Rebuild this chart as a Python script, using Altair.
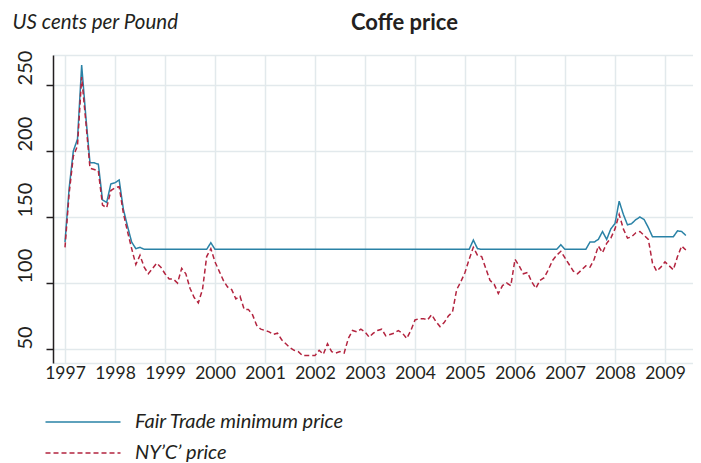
import altair as alt
import pandas as pd

start_year = 1997
series_names = ["Fair Trade minimum price", "NY\u2019C\u2019 price"]

# Monthly values, Jan 1997 .. Jun 2009 (US cents per pound)
ny_c_price = [
    127, 168, 196, 204, 256, 222, 187, 186, 185, 159, 157, 170,   # 1997
    172, 173, 153, 139, 126, 114, 121, 112, 107, 111, 115, 112,   # 1998
    107, 103, 103, 100, 111, 107, 96, 89, 85, 95, 120, 126,       # 1999
    116, 109, 102, 97, 95, 88, 90, 80, 80, 76, 68, 65,            # 2000
    64, 63, 61, 62, 57, 54, 51, 49, 48, 45, 45, 45,               # 2001
    45, 49, 46, 54, 48, 47, 48, 47, 58, 64, 63, 65,               # 2002
    63, 59, 62, 64, 65, 60, 61, 62, 64, 62, 58, 64,               # 2003
    72, 73, 73, 72, 76, 71, 67, 70, 75, 78, 95, 101,              # 2004
    108, 118, 127, 121, 120, 111, 102, 99, 92, 98, 100, 98,       # 2005
    118, 113, 107, 108, 101, 96, 102, 104, 110, 117, 121, 124,    # 2006
    119, 114, 109, 107, 110, 113, 112, 118, 128, 123, 130, 134,   # 2007
    141, 152, 141, 134, 135, 138, 139, 136, 133, 115, 109, 112,   # 2008
    116, 113, 110, 120, 128, 125,                                 # 2009
]

fair_trade_min = [
    131, 172, 200, 209, 265, 226, 191, 191, 190, 163, 161, 175,   # 1997
    176, 178, 156, 143, 131, 126, 127, 125.5, 125.5, 125.5, 125.5, 125.5,  # 1998
    125.5, 125.5, 125.5, 125.5, 125.5, 125.5, 125.5, 125.5, 125.5, 125.5, 125.5, 130.5,  # 1999
    125.5, 125.5, 125.5, 125.5, 125.5, 125.5, 125.5, 125.5, 125.5, 125.5, 125.5, 125.5,  # 2000
    125.5, 125.5, 125.5, 125.5, 125.5, 125.5, 125.5, 125.5, 125.5, 125.5, 125.5, 125.5,  # 2001
    125.5, 125.5, 125.5, 125.5, 125.5, 125.5, 125.5, 125.5, 125.5, 125.5, 125.5, 125.5,  # 2002
    125.5, 125.5, 125.5, 125.5, 125.5, 125.5, 125.5, 125.5, 125.5, 125.5, 125.5, 125.5,  # 2003
    125.5, 125.5, 125.5, 125.5, 125.5, 125.5, 125.5, 125.5, 125.5, 125.5, 125.5, 125.5,  # 2004
    125.5, 125.5, 132.5, 126, 125.5, 125.5, 125.5, 125.5, 125.5, 125.5, 125.5, 125.5,    # 2005
    125.5, 125.5, 125.5, 125.5, 125.5, 125.5, 125.5, 125.5, 125.5, 125.5, 125.5, 129,    # 2006
    125.5, 125.5, 125.5, 125.5, 125.5, 125.5, 131, 131, 133, 139, 133, 141,              # 2007
    145, 162, 152, 144, 145, 148, 150, 148, 142, 135, 135, 135,                          # 2008
    135, 135, 135, 139.5, 139, 136,                                                      # 2009
]

year_ticks = list(range(1997, 2010))
y_ticks = [50, 100, 150, 200, 250]

rows = []
for i, (ft, ny) in enumerate(zip(fair_trade_min, ny_c_price)):
    t = start_year + i / 12
    rows.append({"t": t, "price": ft, "series": series_names[0]})
    rows.append({"t": t, "price": ny, "series": series_names[1]})
df = pd.DataFrame(rows)

FONT = "Lato"
TXT = "#231f20"
GRID = "#e2e9ec"
BLUE = "#2a82a6"
RED = "#b3243f"

legend = alt.Legend(
    orient="none", legendX=20, legendY=357, title=None, padding=0,
    symbolType="M-5,0H5", symbolSize=225, symbolStrokeWidth=1.5,
    labelFont=FONT, labelFontSize=20, labelFontStyle="italic", labelColor=TXT,
    labelOffset=42, labelLimit=0, rowPadding=11, direction="vertical",
)

x_scale = alt.Scale(domain=[1996.76, 2009.56], nice=False, zero=False)
x_bottom = alt.X(
    "t:Q", scale=x_scale,
    axis=alt.Axis(
        orient="bottom", values=year_ticks, format="d", grid=True, gridColor=GRID,
        gridWidth=1.5, ticks=False, labelPadding=1, labelFontSize=17.5, labelFont=FONT,
        labelColor=TXT, domainColor=GRID, domainWidth=1.5, title=None,
    ),
)
x_top = alt.X(
    "t:Q", scale=x_scale,
    axis=alt.Axis(
        orient="top", labels=False, ticks=False, grid=False, domainColor=GRID,
        domainWidth=1.5, title="Coffe price", titleX=351, titleY=-33,
        titleAlign="center", titleBaseline="middle", titleFont=FONT,
        titleFontSize=22, titleFontWeight="bold", titleColor=TXT, titleAngle=0,
    ),
)
y_enc = alt.Y(
    "price:Q",
    scale=alt.Scale(domain=[39.4, 272.7], nice=False, zero=False),
    axis=alt.Axis(
        values=y_ticks, grid=True, gridColor=GRID, gridWidth=1.5,
        domainColor=TXT, domainWidth=1.5, tickColor=TXT, tickSize=7, tickWidth=1.5,
        labelAngle=270, labelAlign="left", labelBaseline="middle", labelPadding=21,
        labelFontSize=20, labelFont=FONT, labelColor=TXT,
        title="US cents per Pound", titleAngle=0, titleX=-41, titleY=-33,
        titleAlign="left", titleBaseline="middle", titleFont=FONT,
        titleFontStyle="italic", titleFontWeight="normal", titleFontSize=20.5,
        titleColor=TXT,
    ),
)

color = alt.Color("series:N", scale=alt.Scale(domain=series_names, range=[BLUE, RED]),
                  legend=legend)
dash = alt.StrokeDash("series:N",
                      scale=alt.Scale(domain=series_names, range=[[1, 0], [5, 3]]),
                      legend=legend)

lines = alt.Chart(df).mark_line(strokeWidth=1.5).encode(
    x=x_bottom, y=y_enc, color=color, strokeDash=dash, detail="series:N",
)
top_line = alt.Chart(df).mark_line(opacity=0).encode(
    x=x_top, y=y_enc, detail="series:N",
)

chart = alt.layer(lines, top_line).resolve_axis(x="independent").properties(
    width=640, height=308,
    autosize=alt.AutoSizeParams(type="none"),
    padding={"left": 45, "top": 47, "right": 0, "bottom": 99},
).configure_view(stroke=None)

chart.save("out.html", embed_options={"renderer": "svg", "actions": False})
